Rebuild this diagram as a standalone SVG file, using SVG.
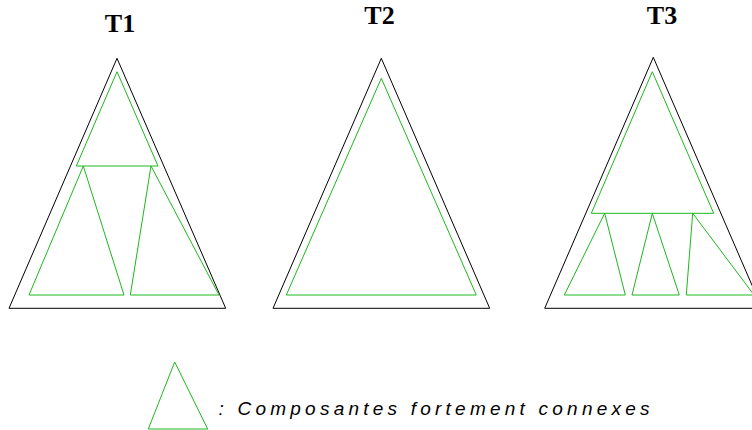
<svg xmlns="http://www.w3.org/2000/svg" width="752" height="430" viewBox="0 0 752 430">
<style>
.outer{fill:none;stroke:#000;stroke-width:1}
.scc{fill:none;stroke:#1cb81c;stroke-width:1}
.title{font-family:"Liberation Serif","Times New Roman",serif;font-weight:bold;font-size:26px;fill:#000;text-anchor:middle}
.legend{font-family:"Liberation Sans",Arial,sans-serif;font-style:italic;font-size:19px;fill:#000}
</style>
<rect width="752" height="430" fill="#fff"/>
<g id="T1">
<text class="title" x="120" y="32">T1</text>
<polygon class="outer" points="117,58.3 9,308.3 225.7,308.3"/>
<polygon class="scc" points="117,71.7 76.3,166 158,166"/>
<polygon class="scc" points="83.3,166 29,295 124,295"/>
<polygon class="scc" points="151,166 130.3,295 219,295"/>
</g>
<g id="T2">
<text class="title" x="379.5" y="24">T2</text>
<polygon class="outer" points="381.3,58.3 273,308.3 489.7,308.3"/>
<polygon class="scc" points="381.3,78.3 286.3,295 476.3,295"/>
</g>
<g id="T3">
<text class="title" x="662" y="24">T3</text>
<polygon class="outer" points="653.3,57.3 544.7,308.3 762,308.3"/>
<polygon class="scc" points="652.3,71.7 591.3,213.3 713.7,213.3"/>
<polygon class="scc" points="604.7,213.3 564.3,295 625.3,295"/>
<polygon class="scc" points="652.3,213.3 632,295 679.3,295"/>
<polygon class="scc" points="692.7,213.3 686.3,295 754,295"/>
</g>
<g id="legend">
<polygon class="scc" points="174.7,362 148.3,429 207.7,429"/>
<text class="legend" x="218.5" y="415" textLength="431" lengthAdjust="spacing">: Composantes fortement connexes</text>
</g>
</svg>
